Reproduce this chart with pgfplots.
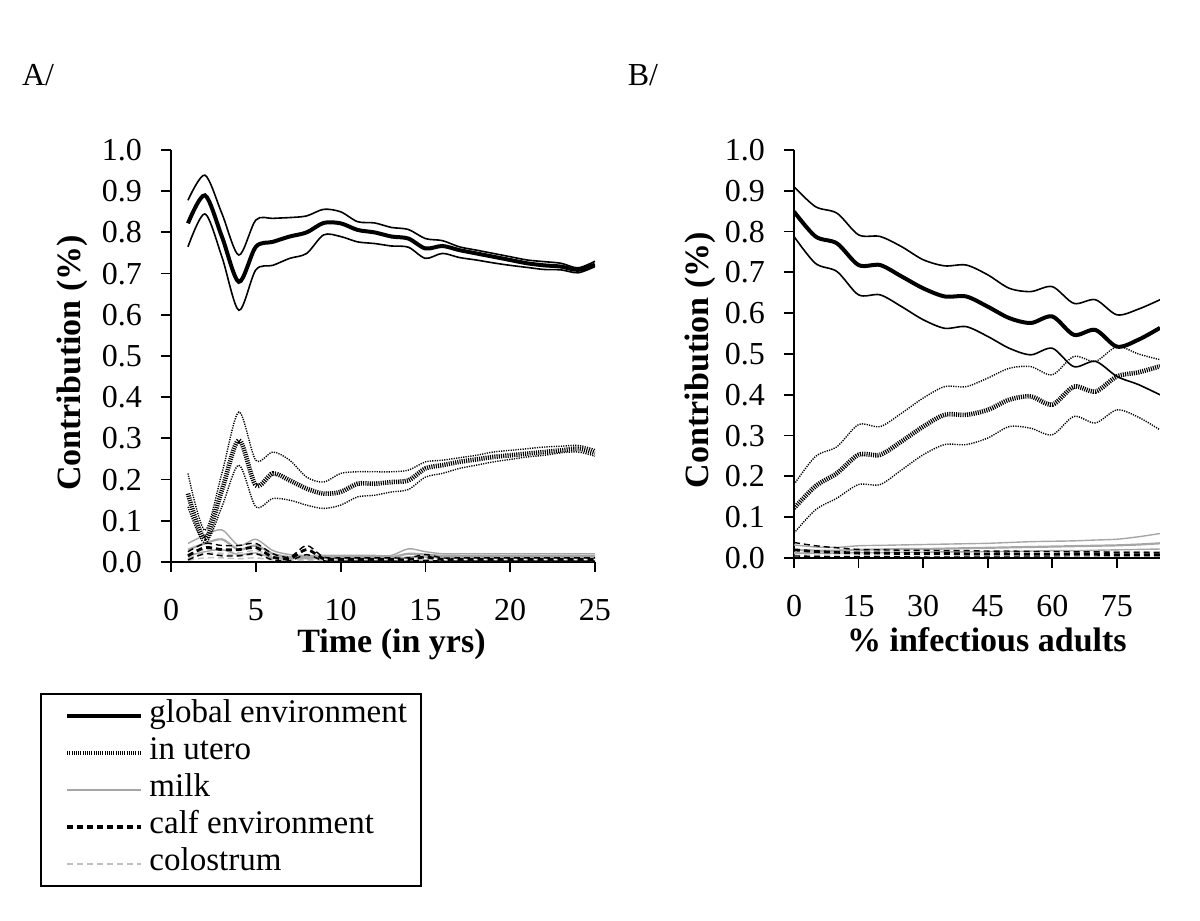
\documentclass[border=0pt]{standalone}
\usepackage{pgfplots}
\pgfplotsset{compat=1.18}
\usepackage{pgfplotstable}
\usepackage{fontspec}
\setmainfont{Liberation Serif}

\pgfplotstableread{
x gm gu gl um uu ul mm mu ml cm cu cl om ou ol
1 0.822 0.878 0.765 0.166 0.215 0.134 0.030 0.045 0.015 0.015 0.025 0.005 0.010 0.018 0.004
2 0.890 0.939 0.845 0.057 0.077 0.045 0.045 0.065 0.025 0.035 0.045 0.020 0.020 0.030 0.010
3 0.790 0.846 0.741 0.174 0.215 0.134 0.055 0.078 0.030 0.030 0.040 0.015 0.020 0.028 0.010
4 0.680 0.745 0.611 0.296 0.364 0.235 0.030 0.040 0.018 0.030 0.040 0.015 0.015 0.022 0.008
5 0.765 0.830 0.709 0.186 0.247 0.134 0.040 0.055 0.022 0.035 0.045 0.020 0.020 0.028 0.010
6 0.777 0.834 0.720 0.215 0.267 0.154 0.020 0.028 0.010 0.012 0.020 0.005 0.010 0.015 0.005
7 0.790 0.836 0.737 0.198 0.247 0.150 0.012 0.018 0.008 0.008 0.012 0.003 0.008 0.012 0.004
8 0.800 0.840 0.749 0.178 0.206 0.138 0.012 0.016 0.008 0.030 0.040 0.018 0.008 0.012 0.004
9 0.823 0.856 0.794 0.166 0.194 0.130 0.012 0.016 0.008 0.008 0.012 0.003 0.008 0.012 0.004
10 0.822 0.850 0.790 0.170 0.215 0.138 0.012 0.016 0.008 0.006 0.010 0.002 0.008 0.012 0.004
11 0.806 0.826 0.777 0.190 0.219 0.158 0.012 0.016 0.008 0.006 0.010 0.002 0.008 0.012 0.004
12 0.800 0.823 0.773 0.190 0.219 0.162 0.012 0.016 0.008 0.006 0.010 0.002 0.008 0.012 0.004
13 0.790 0.812 0.767 0.194 0.219 0.170 0.012 0.016 0.008 0.006 0.010 0.002 0.008 0.012 0.004
14 0.785 0.807 0.764 0.198 0.223 0.176 0.020 0.032 0.012 0.006 0.010 0.002 0.008 0.012 0.004
15 0.761 0.785 0.737 0.227 0.243 0.206 0.018 0.025 0.012 0.012 0.018 0.004 0.008 0.012 0.004
16 0.767 0.780 0.749 0.235 0.247 0.215 0.015 0.020 0.010 0.006 0.010 0.002 0.008 0.012 0.004
17 0.757 0.765 0.739 0.243 0.253 0.227 0.015 0.020 0.010 0.006 0.010 0.002 0.008 0.012 0.004
18 0.749 0.757 0.733 0.249 0.259 0.235 0.015 0.020 0.010 0.006 0.010 0.002 0.008 0.012 0.004
19 0.741 0.749 0.726 0.255 0.267 0.243 0.015 0.020 0.010 0.006 0.010 0.002 0.008 0.012 0.004
20 0.733 0.741 0.720 0.259 0.271 0.249 0.015 0.020 0.010 0.006 0.010 0.002 0.008 0.012 0.004
21 0.725 0.733 0.715 0.263 0.275 0.255 0.015 0.020 0.010 0.006 0.010 0.002 0.008 0.012 0.004
22 0.720 0.729 0.710 0.267 0.279 0.259 0.015 0.020 0.010 0.006 0.010 0.002 0.008 0.012 0.004
23 0.717 0.725 0.709 0.271 0.281 0.265 0.015 0.020 0.010 0.006 0.010 0.002 0.008 0.012 0.004
24 0.709 0.714 0.702 0.275 0.283 0.267 0.015 0.020 0.010 0.006 0.010 0.002 0.008 0.012 0.004
25 0.722 0.730 0.717 0.265 0.273 0.257 0.015 0.020 0.010 0.006 0.010 0.002 0.008 0.012 0.004
}\tabA

\pgfplotstableread{
x gm gu gl um uu ul mm mu ml cm cu cl om ou ol
0 0.849 0.910 0.788 0.122 0.180 0.061 0.020 0.032 0.012 0.020 0.038 0.005 0.012 0.018 0.005
5 0.788 0.861 0.722 0.176 0.249 0.118 0.018 0.027 0.012 0.016 0.030 0.004 0.011 0.017 0.005
10 0.771 0.845 0.702 0.208 0.273 0.147 0.018 0.026 0.012 0.014 0.025 0.003 0.011 0.017 0.005
15 0.718 0.792 0.645 0.253 0.327 0.180 0.020 0.030 0.013 0.012 0.021 0.003 0.011 0.016 0.005
20 0.718 0.788 0.645 0.253 0.322 0.180 0.021 0.031 0.013 0.012 0.020 0.003 0.011 0.016 0.005
25 0.690 0.763 0.616 0.286 0.355 0.216 0.022 0.032 0.014 0.011 0.019 0.003 0.010 0.016 0.004
30 0.661 0.731 0.584 0.322 0.392 0.253 0.022 0.033 0.014 0.011 0.019 0.002 0.010 0.016 0.004
35 0.641 0.716 0.563 0.351 0.420 0.278 0.023 0.034 0.015 0.011 0.018 0.002 0.010 0.016 0.004
40 0.641 0.718 0.567 0.351 0.420 0.278 0.024 0.035 0.015 0.010 0.018 0.002 0.010 0.016 0.004
45 0.616 0.694 0.543 0.363 0.441 0.294 0.025 0.036 0.016 0.010 0.017 0.002 0.010 0.015 0.004
50 0.588 0.661 0.514 0.388 0.465 0.322 0.026 0.038 0.016 0.010 0.017 0.002 0.010 0.015 0.004
55 0.576 0.653 0.498 0.396 0.469 0.318 0.027 0.040 0.017 0.009 0.016 0.002 0.010 0.015 0.004
60 0.592 0.665 0.514 0.376 0.449 0.302 0.028 0.041 0.018 0.009 0.016 0.002 0.009 0.015 0.003
65 0.547 0.624 0.469 0.420 0.494 0.347 0.029 0.042 0.018 0.009 0.015 0.001 0.009 0.015 0.003
70 0.559 0.633 0.482 0.408 0.482 0.331 0.030 0.044 0.019 0.009 0.015 0.001 0.009 0.015 0.003
75 0.518 0.596 0.445 0.445 0.518 0.363 0.031 0.046 0.020 0.008 0.014 0.001 0.009 0.015 0.003
80 0.535 0.610 0.425 0.455 0.500 0.345 0.033 0.052 0.021 0.008 0.014 0.001 0.009 0.015 0.003
85 0.564 0.633 0.400 0.470 0.486 0.314 0.036 0.060 0.022 0.008 0.013 0.001 0.009 0.015 0.003
}\tabB

\pgfplotsset{
  gmean/.style={black, line width=2pt, smooth},
  gci/.style={black, line width=0.8pt, smooth},
  umean/.style={black, line width=2.3pt, dash pattern=on 0.55pt off 0.55pt, smooth},
  uci/.style={black, line width=0.7pt, dash pattern=on 0.6pt off 0.6pt, smooth},
  mline/.style={black!35, line width=1.1pt, smooth},
  mci/.style={black!35, line width=0.7pt, smooth},
  cline/.style={black, line width=1.4pt, dash pattern=on 3pt off 2pt, smooth},
  cci/.style={black, line width=0.7pt, dash pattern=on 3pt off 2pt, smooth},
  oline/.style={black!25, line width=1.2pt, dash pattern=on 3pt off 2pt, smooth},
  oci/.style={black!25, line width=0.7pt, dash pattern=on 3pt off 2pt, smooth},
  myaxis/.style={
    scale only axis,
    axis lines=left,
    axis line style={-, line width=1pt},
    ymin=0, ymax=1,
    ytick={0,0.1,0.2,0.3,0.4,0.5,0.6,0.7,0.8,0.9,1.0},
    yticklabel style={xshift=-6pt, /pgf/number format/.cd, fixed, fixed zerofill, precision=1},
    /pgf/number format/assume math mode=true,
    tick align=outside,
    major tick length=5pt,
    tick style={black, line width=0.9pt},
    tick label style={font=\fontsize{16}{16}\selectfont},
    xticklabel style={yshift=-10pt},
    label style={font=\bfseries\fontsize{17}{17}\selectfont},
    ylabel={Contribution (\%)},
  },
}

\begin{document}
\begin{tikzpicture}
\useasboundingbox (0,0) rectangle (600pt,460.5pt);
\node[font=\fontsize{16}{16}\selectfont] at (19pt,423pt) {A/};
\node[font=\fontsize{16}{16}\selectfont] at (321.5pt,423pt) {B/};

\begin{axis}[myaxis,
  at={(85.5pt,179.5pt)}, anchor=south west,
  width=212pt, height=206pt,
  xmin=0, xmax=25, xtick={0,5,10,15,20,25},
  xlabel={Time (in yrs)},
  xlabel style={at={(axis description cs:0.52,-0.2)}, anchor=center},
  ylabel style={at={(axis description cs:-0.233,0.483)}, anchor=center},
  legend style={at={(axis description cs:-0.309,-0.318)}, anchor=north west,
    draw=black, line width=0.9pt, font=\fontsize{16.5}{19}\selectfont,
    inner xsep=4pt, inner ysep=2pt, row sep=0.5pt,
    nodes={inner ysep=1.5pt, inner xsep=3pt, text height=11pt, text depth=4pt}},
  legend cell align=left,
  legend image code/.code={\draw[#1, opacity=0] (0pt,0pt) -- (8pt,0pt); \draw[#1] (8pt,0pt) -- (45pt,0pt);},
]
\addplot[oci, forget plot] table[x=x, y=ou] {\tabA};
\addplot[oci, forget plot] table[x=x, y=ol] {\tabA};
\addplot[oline, forget plot] table[x=x, y=om] {\tabA};
\addplot[mci, forget plot] table[x=x, y=mu] {\tabA};
\addplot[mci, forget plot] table[x=x, y=ml] {\tabA};
\addplot[mline, forget plot] table[x=x, y=mm] {\tabA};
\addplot[cci, forget plot] table[x=x, y=cu] {\tabA};
\addplot[cci, forget plot] table[x=x, y=cl] {\tabA};
\addplot[cline, forget plot] table[x=x, y=cm] {\tabA};
\addplot[uci, forget plot] table[x=x, y=uu] {\tabA};
\addplot[uci, forget plot] table[x=x, y=ul] {\tabA};
\addplot[umean, forget plot] table[x=x, y=um] {\tabA};
\addplot[gci, forget plot] table[x=x, y=gu] {\tabA};
\addplot[gci, forget plot] table[x=x, y=gl] {\tabA};
\addplot[gmean, forget plot] table[x=x, y=gm] {\tabA};
\addlegendimage{black, line width=2pt}
\addlegendentry{global environment}
\addlegendimage{black, line width=2.3pt, dash pattern=on 0.55pt off 0.55pt}
\addlegendentry{in utero}
\addlegendimage{black!35, line width=1.3pt}
\addlegendentry{milk}
\addlegendimage{black, line width=1.6pt, dash pattern=on 3pt off 2pt}
\addlegendentry{calf environment}
\addlegendimage{black!25, line width=1.3pt, dash pattern=on 3pt off 2pt}
\addlegendentry{colostrum}
\end{axis}

\begin{axis}[myaxis,
  at={(397pt,181.5pt)}, anchor=south west,
  width=183pt, height=204pt,
  xmin=0, xmax=85, xtick={0,15,30,45,60,75},
  xlabel={\% infectious adults},
  xlabel style={at={(axis description cs:0.527,-0.2)}, anchor=center},
  ylabel style={at={(axis description cs:-0.257,0.485)}, anchor=center},
]
\addplot[oci] table[x=x, y=ou] {\tabB};
\addplot[oci] table[x=x, y=ol] {\tabB};
\addplot[oline] table[x=x, y=om] {\tabB};
\addplot[mci] table[x=x, y=mu] {\tabB};
\addplot[mci] table[x=x, y=ml] {\tabB};
\addplot[mline] table[x=x, y=mm] {\tabB};
\addplot[cci] table[x=x, y=cu] {\tabB};
\addplot[cci] table[x=x, y=cl] {\tabB};
\addplot[cline] table[x=x, y=cm] {\tabB};
\addplot[uci] table[x=x, y=uu] {\tabB};
\addplot[uci] table[x=x, y=ul] {\tabB};
\addplot[umean] table[x=x, y=um] {\tabB};
\addplot[gci] table[x=x, y=gu] {\tabB};
\addplot[gci] table[x=x, y=gl] {\tabB};
\addplot[gmean] table[x=x, y=gm] {\tabB};
\end{axis}
\end{tikzpicture}
\end{document}
